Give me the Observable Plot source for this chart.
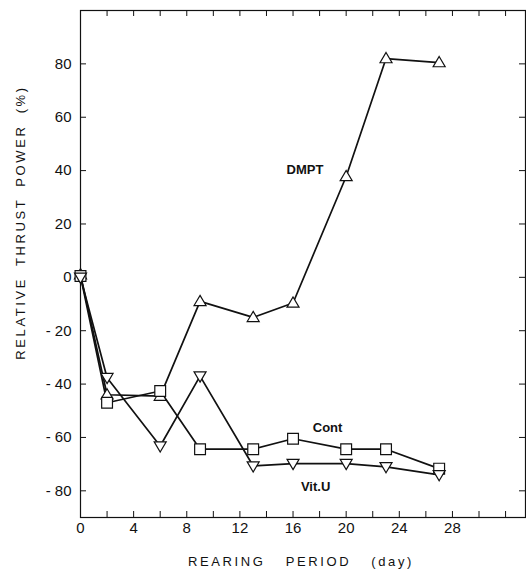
<!DOCTYPE html>
<html><head><meta charset="utf-8">
<script src="https://cdn.jsdelivr.net/npm/d3@7"></script>
<script src="https://cdn.jsdelivr.net/npm/@observablehq/plot@0.6"></script>
<style>
body{margin:0;background:#fff;}
#chart svg{display:block;}
</style></head><body><div id="chart"></div>
<script>
// ---- data ----
const days  = [0, 2, 6, 9, 13, 16, 20, 23, 27];
const dmpt  = [1, -44, -44.5, -9, -15, -9.6, 37.8, 82, 80.5];
const cont  = [0.5, -47, -42.6, -64.4, -64.4, -60.5, -64.4, -64.4, -71.7];
const vitU  = [0, -37.6, -63.2, -37, -70.7, -69.8, -69.8, -71, -74];
const seriesNames = ["DMPT", "Cont", "Vit.U"];
const labelDay   = [16.9, 18.6, 17.7];
const labelValue = [40.4, -56.4, -78.5];
const xTickLabels = [0, 4, 8, 12, 16, 20, 24, 28];
const xMinorTicks = [2, 4, 6, 8, 10, 12, 14, 16, 18, 20, 22, 24, 26, 28, 30, 32];
const yTickLabels = [-80, -60, -40, -20, 0, 20, 40, 60, 80];
const xTitle = "REARING PERIOD (day)";
const yTitle = "RELATIVE THRUST POWER (%)";

// ---- build table ----
const seriesValues = [dmpt, cont, vitU];
const rows = [];
seriesNames.forEach((name, s) => days.forEach((d, i) => rows.push({series: name, day: d, value: seriesValues[s][i]})));
const labels = seriesNames.map((n, i) => ({name: n, day: labelDay[i], value: labelValue[i]}));

// ---- custom open marker symbols ----
const triUp = {draw(ctx, size) { const r = Math.sqrt(size / Math.PI); ctx.moveTo(0, -r); ctx.lineTo(r, r * 0.7); ctx.lineTo(-r, r * 0.7); ctx.closePath(); }};
const triDown = {draw(ctx, size) { const r = Math.sqrt(size / Math.PI); ctx.moveTo(0, r); ctx.lineTo(r, -r * 0.7); ctx.lineTo(-r, -r * 0.7); ctx.closePath(); }};
const square = {draw(ctx, size) { const r = Math.sqrt(size / Math.PI); const s = r * 1.8; ctx.rect(-s / 2, -s / 2, s, s); }};
const symbolOf = {"DMPT": triUp, "Cont": square, "Vit.U": triDown};

const W = 526, H = 571, mT = 10, mB = 54, mL = 80, mR = 1;
const fw = W - mL - mR, fh = H - mT - mB, tk = 6;

const chart = Plot.plot({
  width: W, height: H,
  marginTop: mT, marginBottom: mB, marginLeft: mL, marginRight: mR,
  style: {fontFamily: "'Liberation Sans', Arial, sans-serif", fontSize: "15px", background: "#fff", color: "#111"},
  x: {domain: [0, 33.5], label: null},
  y: {domain: [-90, 100], label: null},
  marks: [
    Plot.frame({stroke: "#111", strokeWidth: 1.2}),
    Plot.tickX(xMinorTicks, {x: d => d, insetTop: fh - tk, stroke: "#111", strokeWidth: 1}),
    Plot.tickX(xMinorTicks, {x: d => d, insetBottom: fh - tk, stroke: "#111", strokeWidth: 1}),
    Plot.tickY(yTickLabels, {y: d => d, insetRight: fw - tk, stroke: "#111", strokeWidth: 1}),
    Plot.tickY(yTickLabels, {y: d => d, insetLeft: fw - tk, stroke: "#111", strokeWidth: 1}),
    Plot.axisX(xTickLabels, {anchor: "bottom", tickSize: 0, tickPadding: 5, label: null, fontSize: 15}),
    Plot.axisY(yTickLabels, {anchor: "left", tickSize: 0, tickPadding: 9, label: null, fontSize: 15,
      tickFormat: d => d < 0 ? "- " + (-d) : String(d)}),
    Plot.line(rows, {x: "day", y: "value", z: "series", stroke: "#111", strokeWidth: 1.7}),
    ...seriesNames.map(n => Plot.dot(rows.filter(r => r.series === n), {x: "day", y: "value", r: 6, symbol: symbolOf[n], fill: "#fff", stroke: "#111", strokeWidth: 1.2})),
    Plot.text(labels, {x: "day", y: "value", text: "name", fontSize: 13, fontWeight: "bold", fill: "#111"}),
    Plot.text([yTitle], {frameAnchor: "left", textAnchor: "middle", lineAnchor: "middle", rotate: -90, dx: -60, dy: -41.5, fontSize: 13, fill: "#111"}),
    Plot.text([xTitle], {frameAnchor: "bottom", textAnchor: "middle", lineAnchor: "middle", dx: -2, dy: 44, fontSize: 13, fill: "#111"})
  ]
});
document.getElementById("chart").appendChild(chart);
d3.select(chart).selectAll("text").filter(function() { return this.textContent === yTitle; })
  .style("letter-spacing", "2.6px").style("word-spacing", "5px");
d3.select(chart).selectAll("text").filter(function() { return this.textContent === xTitle; })
  .style("letter-spacing", "2.6px").style("word-spacing", "14px");
</script></body></html>
